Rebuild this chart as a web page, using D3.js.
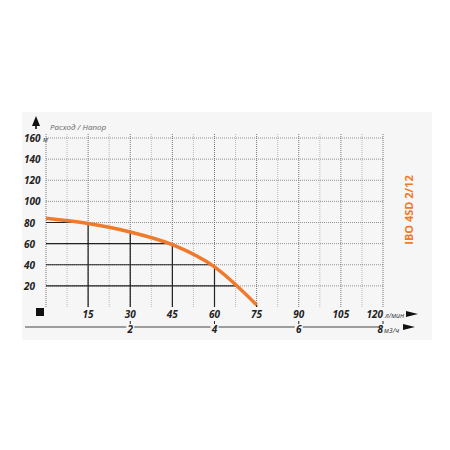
<!DOCTYPE html>
<html><head><meta charset="utf-8">
<script src="https://cdn.jsdelivr.net/npm/d3@7"></script>
<style>body{margin:0;background:#fff}text{font-family:"Open Sans",sans-serif}</style>
</head><body><svg id="c" width="450" height="450"></svg>
<script>
// flow in l/min, head in m
var flow = [0, 15, 30, 45, 60, 75];
var head = [84, 79, 71, 59, 38, 2];
var xTicks = [15, 30, 45, 60, 75, 90, 105, 120];
var yTicks = [20, 40, 60, 80, 100, 120, 140, 160];
var m3Ticks = [2, 4, 6, 8];

var svg = d3.select("#c");
var x = d3.scaleLinear().domain([0, 120]).range([46, 383]);
var y = d3.scaleLinear().domain([0, 160]).range([307, 138]);

svg.append("rect").attr("x", 22).attr("y", 112).attr("width", 410).attr("height", 228).attr("fill", "#f6f6f6");

// minor grid
d3.range(7.5, 121, 7.5).forEach(function(v){
  var major = v % 15 === 0;
  svg.append("line").attr("x1", x(v)).attr("x2", x(v)).attr("y1", y(0)).attr("y2", y(160) - 4)
    .attr("stroke", major ? "#555" : "#aaa").attr("stroke-width", 0.8).attr("stroke-dasharray", "1,1");
});
yTicks.forEach(function(v){
  svg.append("line").attr("x1", x(0)).attr("x2", x(120)).attr("y1", y(v)).attr("y2", y(v))
    .attr("stroke", "#777").attr("stroke-width", 0.8).attr("stroke-dasharray", "1,1");
});
svg.append("line").attr("x1", x(0)).attr("x2", x(0)).attr("y1", y(0)).attr("y2", y(160) - 4)
  .attr("stroke", "#777").attr("stroke-dasharray", "1,1");

var curve = d3.line().x(function(d){return x(d[0]);}).y(function(d){return y(d[1]);}).curve(d3.curveMonotoneX);
var pts = flow.map(function(f, i){ return [f, head[i]]; });
var path = svg.append("path").datum(pts).attr("d", curve).attr("fill", "none")
  .attr("stroke", "#f07a2c").attr("stroke-width", 3.5);

// solid operating lines under the curve
var node = path.node(), L = node.getTotalLength();
function xAtHead(h){ for (var s = 0; s <= L; s += 0.5){ var p = node.getPointAtLength(s); if (p.y >= y(h)) return p.x; } return x(75); }
[20, 40, 60, 80].forEach(function(h){
  svg.insert("line", "path").attr("x1", x(0)).attr("x2", xAtHead(h)).attr("y1", y(h)).attr("y2", y(h)).attr("stroke", "#222").attr("stroke-width", 1.2);
});
[15, 30, 45, 60, 75].forEach(function(f){
  var i = flow.indexOf(f);
  svg.insert("line", "path").attr("x1", x(f)).attr("x2", x(f)).attr("y1", y(0)).attr("y2", y(head[i])).attr("stroke", "#222").attr("stroke-width", 1.2);
});

// y labels
yTicks.forEach(function(v){
  svg.append("text").attr("x", 24).attr("y", y(v) + 4).attr("font-size", 10).attr("font-weight", "bold")
    .attr("font-style", "italic").attr("fill", "#222").text(v);
});
svg.append("text").attr("x", 43).attr("y", y(160) + 4).attr("font-size", 7).attr("font-style", "italic").attr("fill", "#333").text("м");
// x labels
xTicks.forEach(function(v){
  svg.append("text").attr("x", x(v)).attr("y", 318).attr("text-anchor", v === 120 ? "end" : "middle")
    .attr("font-size", 10).attr("font-weight", "bold").attr("font-style", "italic").attr("fill", "#222").text(v);
});
svg.append("text").attr("x", 385).attr("y", 318).attr("font-size", 7).attr("font-style", "italic").attr("fill", "#333").text("л/мин");
svg.append("path").attr("d", "M406,311 l12,3 l-12,3 z").attr("fill", "#111");

// m3/h axis
var xm = d3.scaleLinear().domain([0, 8]).range([x(0), x(120)]);
svg.append("line").attr("x1", 25).attr("x2", 380).attr("y1", 327).attr("y2", 327).attr("stroke", "#444").attr("stroke-width", 1.2);
m3Ticks.forEach(function(v){
  svg.append("rect").attr("x", xm(v) - 4).attr("y", 320).attr("width", 8).attr("height", 12).attr("fill", "#f6f6f6");
  svg.append("line").attr("x1", xm(v)).attr("x2", xm(v)).attr("y1", 321).attr("y2", 324).attr("stroke", "#222");
  svg.append("text").attr("x", xm(v)).attr("y", 333).attr("text-anchor", v === 8 ? "end" : "middle")
    .attr("font-size", 10).attr("font-weight", "bold").attr("font-style", "italic").attr("fill", "#222").text(v);
});
svg.append("text").attr("x", 384).attr("y", 333).attr("font-size", 7).attr("font-style", "italic").attr("fill", "#333").text("м3/ч");
svg.append("path").attr("d", "M403,324 l12,3 l-12,3 z").attr("fill", "#111");

svg.append("rect").attr("x", 36).attr("y", 308).attr("width", 8).attr("height", 8).attr("fill", "#111");
svg.append("path").attr("d", "M32,126 L36,116 L40,126 Z").attr("fill", "#111");
svg.append("rect").attr("x", 35.2).attr("y", 125).attr("width", 1.6).attr("height", 4).attr("fill", "#111");
svg.append("text").attr("x", 50).attr("y", 130).attr("font-size", 8).attr("font-style", "italic").attr("fill", "#666").text("Расход / Напор");

svg.append("text").attr("transform", "translate(413,210) rotate(-90)").attr("text-anchor", "middle")
  .attr("font-size", 11).attr("font-weight", "bold").attr("fill", "#f07a2c").text("IBO 4SD 2/12");
</script></body></html>
